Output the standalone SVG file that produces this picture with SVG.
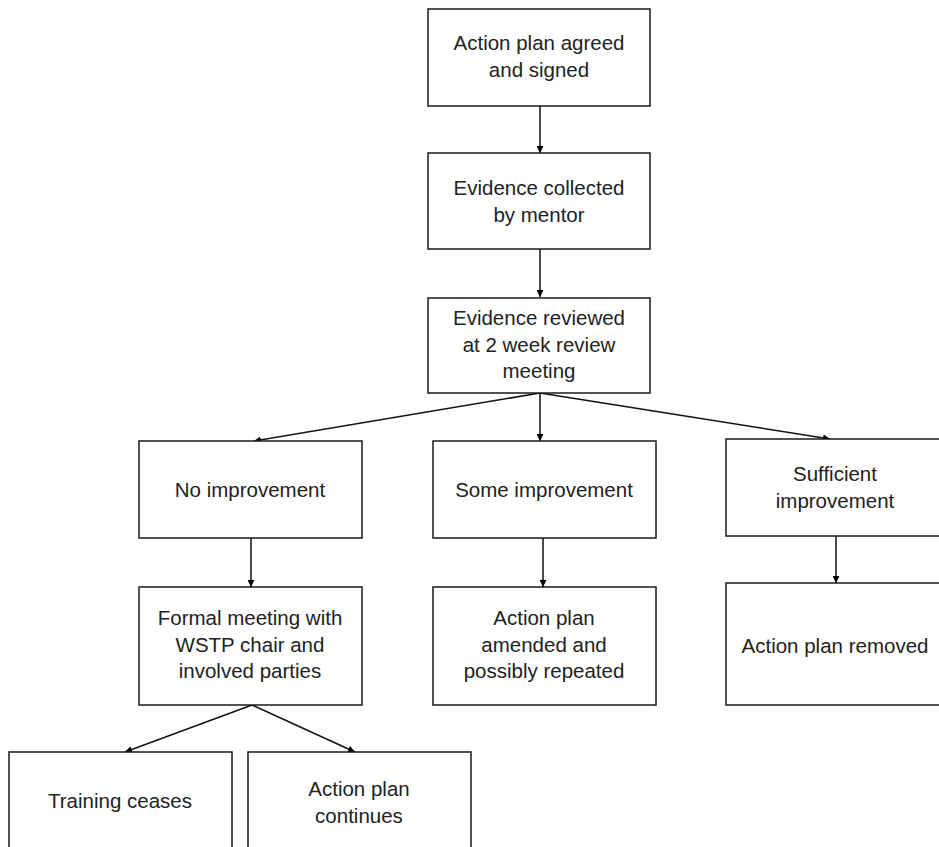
<svg xmlns="http://www.w3.org/2000/svg" width="939" height="847" viewBox="0 0 939 847">
<defs>
<marker id="ah" viewBox="0 0 10 10" refX="10" refY="5" markerWidth="7" markerHeight="7" markerUnits="userSpaceOnUse" orient="auto">
<path d="M0,0 L10,5 L0,10 z" fill="#000"/>
</marker>
<style>
.box{fill:#fff;stroke:#1a1a1a;stroke-width:1.5}
.t{font-family:"Liberation Sans",Arial,sans-serif;font-size:20.5px;fill:#222;text-anchor:middle}
.c{stroke:#111;stroke-width:1.5;fill:none;marker-end:url(#ah)}
</style>
</defs>
<rect width="939" height="847" fill="#fff"/>
<g id="connectors">
<line class="c" x1="540" y1="106" x2="540" y2="153"/>
<line class="c" x1="540" y1="249" x2="540" y2="297"/>
<line class="c" x1="540" y1="393" x2="254" y2="441"/>
<line class="c" x1="540" y1="393" x2="540" y2="441"/>
<line class="c" x1="540" y1="393" x2="830" y2="439"/>
<line class="c" x1="251" y1="538" x2="251" y2="587"/>
<line class="c" x1="543" y1="538" x2="543" y2="587"/>
<line class="c" x1="836" y1="536" x2="836" y2="583"/>
<line class="c" x1="252" y1="705" x2="125" y2="752"/>
<line class="c" x1="252" y1="705" x2="355" y2="752"/>
</g>
<g id="n1"><rect class="box" x="428" y="9" width="222" height="97"/>
<text class="t" x="539" y="50">Action plan agreed</text><text class="t" x="539" y="77">and signed</text></g>
<g id="n2"><rect class="box" x="428" y="153" width="222" height="96"/>
<text class="t" x="539" y="195">Evidence collected</text><text class="t" x="539" y="222">by mentor</text></g>
<g id="n3"><rect class="box" x="428" y="298" width="222" height="95"/>
<text class="t" x="539" y="325">Evidence reviewed</text><text class="t" x="539" y="352">at 2 week review</text><text class="t" x="539" y="378">meeting</text></g>
<g id="n4"><rect class="box" x="139" y="441" width="223" height="97"/>
<text class="t" x="250" y="497">No improvement</text></g>
<g id="n5"><rect class="box" x="433" y="441" width="223" height="97"/>
<text class="t" x="544" y="497">Some improvement</text></g>
<g id="n6"><rect class="box" x="726" y="439" width="223" height="97"/>
<text class="t" x="835" y="481">Sufficient</text><text class="t" x="835" y="508">improvement</text></g>
<g id="n7"><rect class="box" x="139" y="587" width="223" height="118"/>
<text class="t" x="250" y="625">Formal meeting with</text><text class="t" x="250" y="652">WSTP chair and</text><text class="t" x="250" y="678">involved parties</text></g>
<g id="n8"><rect class="box" x="433" y="587" width="223" height="118"/>
<text class="t" x="544" y="625">Action plan</text><text class="t" x="544" y="652">amended and</text><text class="t" x="544" y="678">possibly repeated</text></g>
<g id="n9"><rect class="box" x="726" y="583" width="223" height="122"/>
<text class="t" x="835" y="653">Action plan removed</text></g>
<g id="n10"><rect class="box" x="9" y="752" width="223" height="120"/>
<text class="t" x="120" y="808">Training ceases</text></g>
<g id="n11"><rect class="box" x="248" y="752" width="223" height="120"/>
<text class="t" x="359" y="796">Action plan</text><text class="t" x="359" y="823">continues</text></g>
</svg>
